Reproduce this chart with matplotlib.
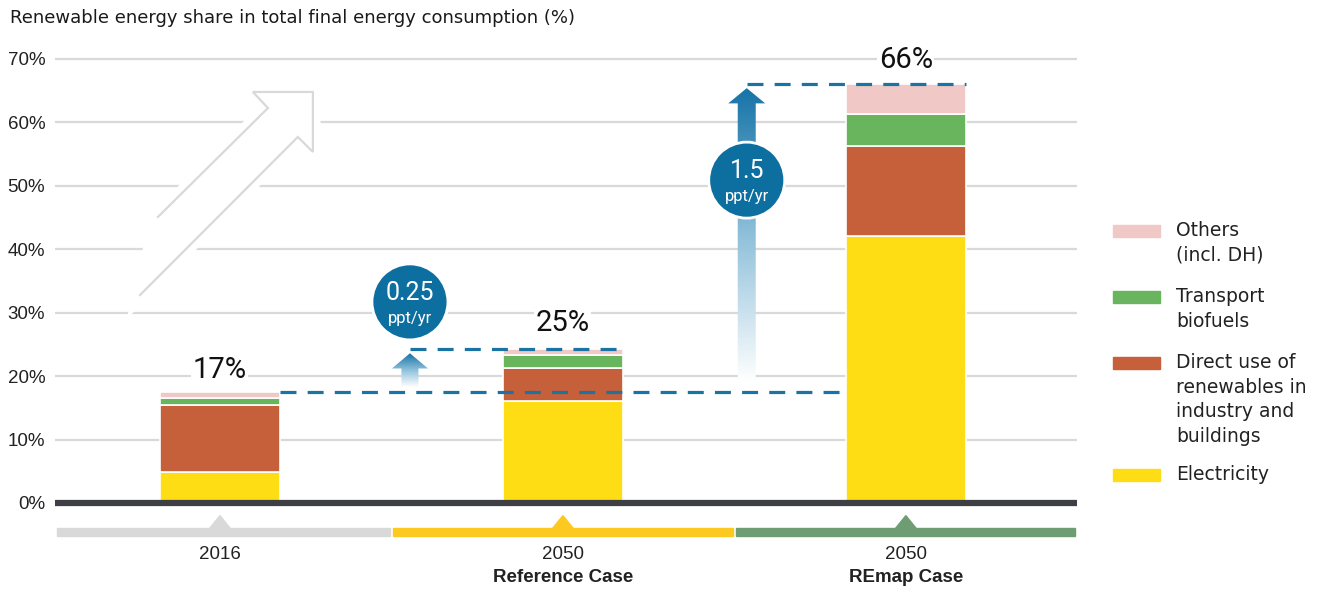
import numpy as np
import matplotlib
matplotlib.use("Agg")
import matplotlib.pyplot as plt
from matplotlib.patches import Polygon, Ellipse, Rectangle
from matplotlib.colors import LinearSegmentedColormap

# data
years = ["2016", "2050", "2050"]
cases = ["", "Reference Case", "REmap Case"]
electricity = [4.9, 16.0, 42.1]
direct_use = [10.6, 5.3, 14.2]
transport = [1.0, 2.0, 5.0]
others = [1.0, 1.0, 4.8]
total_labels = ["17%", "25%", "66%"]
rates = ["0.25", "1.5"]
series_names = ["Others\n(incl. DH)", "Transport\nbiofuels",
                "Direct use of\nrenewables in\nindustry and\nbuildings", "Electricity"]

c_elec = "#ffdd15"
c_direct = "#c6603a"
c_trans = "#69b55e"
c_other = "#f0c8c5"
c_blue = "#0d6f9f"
strip_colors = ["#d9d9d9", "#fcc920", "#6f9d73"]
narrow = ["Liberation Sans", "DejaVu Sans"]
rob = ["Roboto", "DejaVu Sans"]

fig = plt.figure(figsize=(13.17, 5.91), dpi=100)
ax = fig.add_axes([55 / 1317, 1 - 541 / 591, (1077 - 55) / 1317, (541 - 46.3) / 591])

x = np.arange(len(years))
w = 0.35
bottom = np.zeros(3)
for vals, col in [(electricity, c_elec), (direct_use, c_direct), (transport, c_trans), (others, c_other)]:
    ax.bar(x, vals, w, bottom=bottom, color=col, edgecolor="white", linewidth=1.2, zorder=4)
    bottom += np.array(vals)
tops = bottom

# grid + zero line
for g in range(10, 80, 10):
    ax.axhline(g, color="#d9d9d9", lw=1.6, zorder=0)
ax.axhline(0, color="#3e3f44", lw=4.5, zorder=5)

ax.set_xlim(-0.481, 2.499)
ax.set_ylim(-6, 72)
ax.set_yticks(range(0, 80, 10))
ax.set_yticklabels([f"{v}%" for v in range(0, 80, 10)], fontsize=13.5, color="#222222", family=narrow)
ax.tick_params(axis="y", length=0, pad=7)
ax.set_xticks([])
for s in ax.spines.values():
    s.set_visible(False)

# category strips with little triangles
edges = [-0.481, 0.5, 1.5, 2.499]
for i in range(3):
    ax.add_patch(Rectangle((edges[i] + 0.005, -5.2), edges[i + 1] - edges[i] - 0.01, 1.3,
                           color=strip_colors[i], clip_on=False, zorder=2))
    ax.add_patch(Polygon([(x[i] - 0.03, -4.0), (x[i], -2.0), (x[i] + 0.03, -4.0)],
                         closed=True, color=strip_colors[i], clip_on=False, zorder=2))
    ax.text(x[i], -8.2, years[i], ha="center", va="center", fontsize=13.5, color="#222222",
            family=narrow, clip_on=False)
    if cases[i]:
        ax.text(x[i], -11.8, cases[i], ha="center", va="center", fontsize=13.5, fontweight="bold",
                color="#222222", family=narrow, clip_on=False)

# total labels
label_y = [21.0, 28.4, 69.8]
for i in range(3):
    ax.text(x[i], label_y[i], total_labels[i], ha="center", va="center", fontsize=21,
            family=rob, color="#111111", zorder=6,
            bbox=dict(facecolor="white", edgecolor="none", pad=1))

# dashed guide lines
arrow_x = [0.554, 1.536]
dash = dict(color="#1b73a4", lw=2.3, dashes=(5, 3.5), zorder=5)
ax.plot([x[0] + w / 2, x[2] - w / 2], [tops[0], tops[0]], **dash)
ax.plot([arrow_x[0], x[1] + w / 2], [tops[1], tops[1]], **dash)
ax.plot([arrow_x[1], x[2] + w / 2], [tops[2], tops[2]], **dash)

# gradient arrows
cmap = LinearSegmentedColormap.from_list("fade", ["#ffffff", "#8fc0da", "#1573a6"])


def grad_arrow(xc, y0, y1, shaft_w, head_w, head_l):
    pts = [(xc - shaft_w / 2, y0), (xc + shaft_w / 2, y0), (xc + shaft_w / 2, y1 - head_l),
           (xc + head_w / 2, y1 - head_l), (xc, y1), (xc - head_w / 2, y1 - head_l),
           (xc - shaft_w / 2, y1 - head_l)]
    poly = Polygon(pts, closed=True, facecolor="none", edgecolor="none")
    ax.add_patch(poly)
    grad = np.linspace(0, 1, 256).reshape(-1, 1)
    im = ax.imshow(grad, cmap=cmap, extent=[xc - head_w / 2, xc + head_w / 2, y0, y1],
                   origin="lower", aspect="auto", zorder=3)
    im.set_clip_path(poly)


grad_arrow(arrow_x[0], 18.3, 23.6, 17 / 343, 36 / 343, 2.4)
grad_arrow(arrow_x[1], 19.0, 65.4, 18 / 343, 37 / 343, 2.4)

# rate circles
circ_y = [31.7, 50.9]
for i in range(2):
    ax.add_patch(Ellipse((arrow_x[i], circ_y[i]), 2 * 38 / 343, 2 * 38 / 6.343, facecolor=c_blue,
                         edgecolor="white", lw=2, zorder=6))
    ax.text(arrow_x[i], circ_y[i] + 1.4, rates[i], ha="center", va="center", fontsize=18,
            color="white", family=rob, zorder=7)
    ax.text(arrow_x[i], circ_y[i] - 2.6, "ppt/yr", ha="center", va="center", fontsize=12,
            color="white", family=rob, zorder=7)

# decorative outline arrow top-left
outline = [(-0.181, 45.09), (0.140, 62.27), (0.096, 64.80), (0.271, 64.80),
           (0.271, 55.34), (0.227, 57.70), (-0.233, 32.79)]
ax.add_patch(Polygon(outline, closed=True, facecolor="white", edgecolor="white", lw=11, zorder=1))
ox, oy = zip(*outline)
ax.plot(ox, oy, color="#d9d9d9", lw=1.6, zorder=2, solid_joinstyle="miter")

# title
fig.text(10 / 1317, 1 - 18 / 591, "Renewable energy share in total final energy consumption (%)",
         fontsize=13, color="#1a1a1a", va="center", ha="left")

# legend
leg_colors = [c_other, c_trans, c_direct, c_elec]
leg_y = [231, 297, 363, 475]
for name, col, py in zip(series_names, leg_colors, leg_y):
    fig.patches.append(Rectangle((1113 / 1317, 1 - (py + 6) / 591), 47 / 1317, 12 / 591,
                                 color=col, transform=fig.transFigure))
    fig.text(1176 / 1317, 1 - (py - 10) / 591, name, fontsize=13.5, color="#222222",
             va="top", ha="left", linespacing=1.38)

fig.savefig("out.png", dpi=100)
